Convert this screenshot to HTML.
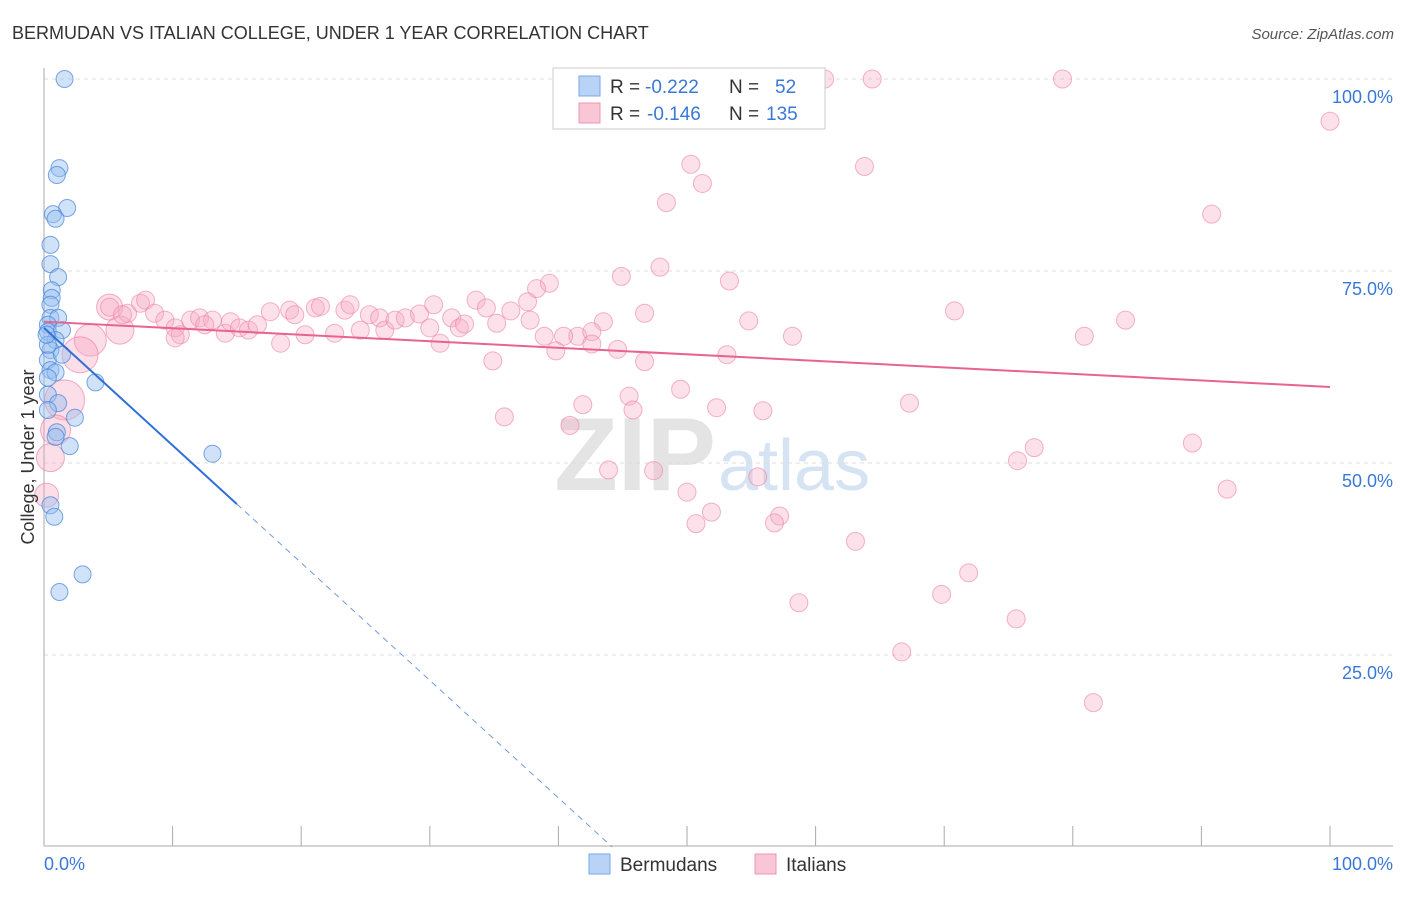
<!DOCTYPE html>
<html><head><meta charset="utf-8"><style>
body{margin:0;background:#fff;font-family:"Liberation Sans",sans-serif;}
svg text{font-family:"Liberation Sans",sans-serif;}
</style></head><body>
<svg id="chart" width="1406" height="892" xmlns="http://www.w3.org/2000/svg">
<text x="12" y="39" font-size="18" fill="#333">BERMUDAN VS ITALIAN COLLEGE, UNDER 1 YEAR CORRELATION CHART</text>
<text x="1394" y="39" font-size="15" fill="#555" font-style="italic" text-anchor="end">Source: ZipAtlas.com</text>
<text x="716" y="490" font-size="104" fill="#e4e4e4" text-anchor="end" font-family="Liberation Serif" font-weight="bold">ZIP</text>
<text x="718" y="490" font-size="72" fill="#d6e3f3">atlas</text>
<g id="grid"></g><g id="axes"></g><g id="pink"></g><g id="blue"></g><g id="lines"></g>
<text transform="translate(34,457) rotate(-90)" font-size="18" fill="#333" text-anchor="middle">College, Under 1 year</text>
<g>
<rect x="553" y="68" width="272" height="61" fill="#fff" stroke="#ccc"/>
<rect x="579" y="76" width="21" height="20" fill="#b8d3f5" stroke="#7aa7e8"/>
<text x="610" y="93" font-size="19" fill="#333">R = </text><text x="645" y="93" font-size="19" fill="#3a78d8">-0.222</text>
<text x="729" y="93" font-size="19" fill="#333">N = </text><text x="775" y="93" font-size="19" fill="#3a78d8">52</text>
<rect x="579" y="103" width="21" height="20" fill="#f9c6d6" stroke="#ee94b1"/>
<text x="610" y="120" font-size="19" fill="#333">R = </text><text x="647" y="120" font-size="19" fill="#3a78d8">-0.146</text>
<text x="729" y="120" font-size="19" fill="#333">N = </text><text x="766" y="120" font-size="19" fill="#3a78d8">135</text>
</g>
<g>
<rect x="589" y="854" width="21" height="20" fill="#b8d3f5" stroke="#7aa7e8"/>
<text x="620" y="871" font-size="19" fill="#333">Bermudans</text>
<rect x="755" y="854" width="21" height="20" fill="#f9c6d6" stroke="#ee94b1"/>
<text x="786" y="871" font-size="19" fill="#333">Italians</text>
</g>
</svg>
<script>
const pinkX=[56.3,60.7,64.4,79.2,100,50.3,63.8,51.2,48.4,90.8,47.9,44.9,39.3,53.3,38.3,33.6,34.4,37.6,30.3,36.3,31.7,70.8,46.7,54.8,84.1,43.5,32.3,35.2,37.8,80.9,58.2,38.9,41.5,40.4,42.6,42.6,44.6,39.8,46.7,53.1,34.9,30.8,35.8,45.5,49.5,41.9,45.8,52.3,55.9,67.3,40.9,89.3,77.0,75.7,43.9,47.4,55.5,50.0,92.0,51.9,50.7,57.2,56.8,63.1,71.9,69.8,58.7,75.6,66.7,81.6,
5.1,7.5,7.9,6.5,8.6,9.4,10.2,10.6,11.4,12.1,13.1,12.5,14.1,14.5,15.2,15.9,16.6,17.6,18.4,19.1,19.5,20.3,21.1,21.5,22.6,23.4,23.8,24.6,25.3,26.1,26.5,27.3,28.1,29.2,30.0,32.7,10.2,6.1];
const pinkY=[100,100,100,100,94.5,88.9,88.6,86.4,83.9,82.4,75.5,74.3,73.4,73.7,72.7,71.2,70.2,71.0,70.6,69.8,68.9,69.8,69.5,68.5,68.6,68.4,67.6,68.2,68.6,66.5,66.5,66.5,66.5,66.5,67.1,65.5,64.8,64.6,63.2,64.1,63.3,65.6,56.0,58.7,59.6,57.6,56.9,57.2,56.8,57.8,54.9,52.6,52.0,50.3,49.1,49.0,48.2,46.2,46.6,43.6,42.1,43.1,42.2,39.8,35.7,32.9,31.8,29.7,25.4,18.8,
70.3,70.8,71.2,69.5,69.5,68.6,67.6,66.7,68.6,68.9,68.6,68.0,66.9,68.4,67.6,67.3,68.0,69.7,65.6,69.9,69.3,66.7,70.2,70.4,66.9,69.9,70.6,67.3,69.3,68.9,67.3,68.6,68.9,69.4,67.6,68.1,66.3,69.3];
const pinkBigX=[5.1,5.9,3.6,2.8,1.6,0.9,0.5,0.2];
const pinkBigY=[70.3,67.3,66.0,64.1,58.2,54.3,50.7,45.8];
const pinkBigR=[13,14,16,18,20,15,14,12];
const blueX=[1.6,1.2,1.0,1.8,0.7,0.9,0.5,0.5,1.1,0.6,0.6,0.5,0.5,1.1,0.3,0.3,1.4,0.9,0.5,0.3,0.5,0.9,4.0,0.3,0.3,1.1,2.4,1.0,0.9,2.0,13.1,0.5,0.8,3.0,1.2,0.3,0.2,1.4,0.3];
const blueY=[100,88.4,87.5,83.2,82.4,81.8,78.4,75.9,74.2,72.5,71.5,70.6,68.9,68.9,68.0,67.1,67.3,66.0,64.7,63.4,62.1,61.8,60.5,61.1,58.9,57.8,55.9,54.0,53.4,52.2,51.2,44.5,43.0,35.5,33.2,65.4,66.7,64.1,56.9];
const pinkTrend=[68.4,59.9];
const blueTrend={intercept:67.6,slope:-1.53,solidEnd:15};
const yTicks=[25,50,75,100];
const xTicks=[0,10,20,30,40,50,60,70,80,90,100];
const NS="http://www.w3.org/2000/svg";
const X=v=>44+v*12.86, Y=v=>847-v*7.68;
function mk(parent,tag,attrs){const e=document.createElementNS(NS,tag);for(const k in attrs)e.setAttribute(k,attrs[k]);document.getElementById(parent).appendChild(e);return e;}
yTicks.forEach(t=>{
 let g=mk('grid','line',{x1:44,x2:1393,y1:Y(t),y2:Y(t),stroke:'#ddd','stroke-dasharray':'4,4'});
 
 
 let l=mk('axes','text',{x:1393,y:Y(t)+24,'font-size':18,fill:'#3a78d8','text-anchor':'end'});l.textContent=t.toFixed(1)+'%';
 
 
});
let ya=mk('axes','line',{x1:44,x2:44,y1:68,y2:846,stroke:'#aaa'});


let xa=mk('axes','line',{x1:44,x2:1393,y1:846,y2:846,stroke:'#aaa'});


xTicks.forEach(t=>{let k=mk('axes','line',{x1:X(t),x2:X(t),y1:826,y2:846,stroke:'#aaa'});
 
 });
[[0,'start','0.0%',44],[100,'end','100.0%',1393]].forEach(a=>{let l=mk('axes','text',{x:a[3],y:870,'font-size':18,fill:'#3a78d8','text-anchor':a[1]});l.textContent=a[2];
 
 });
pinkBigX.forEach((v,i)=>{let c=mk('pink','circle',{cx:X(v),cy:Y(pinkBigY[i]),r:pinkBigR[i],fill:'rgba(246,160,188,0.35)',stroke:'rgba(236,120,160,0.6)'});
 
 });
pinkX.forEach((v,i)=>{let c=mk('pink','circle',{cx:X(v),cy:Y(pinkY[i]),r:9,fill:'rgba(246,170,196,0.35)',stroke:'rgba(236,130,165,0.6)'});
 
 });
blueX.forEach((v,i)=>{let c=mk('blue','circle',{cx:X(v),cy:Y(blueY[i]),r:8.5,fill:'rgba(150,190,240,0.45)',stroke:'rgba(70,130,220,0.7)'});
 
 });
let pl=mk('lines','line',{x1:X(0),y1:Y(pinkTrend[0]),x2:X(100),y2:Y(pinkTrend[1]),stroke:'#e8648f','stroke-width':2});


const bY=x=>blueTrend.intercept+blueTrend.slope*x, zero=-blueTrend.intercept/blueTrend.slope;
let bl=mk('lines','line',{x1:X(0),y1:Y(bY(0)),x2:X(blueTrend.solidEnd),y2:Y(bY(blueTrend.solidEnd)),stroke:'#2f6fd6','stroke-width':2});


let bd=mk('lines','line',{x1:X(blueTrend.solidEnd),y1:Y(bY(blueTrend.solidEnd)),x2:X(zero),y2:Y(0),stroke:'#6f9be0','stroke-width':1,'stroke-dasharray':'6,5'});


</script>
</body></html>
